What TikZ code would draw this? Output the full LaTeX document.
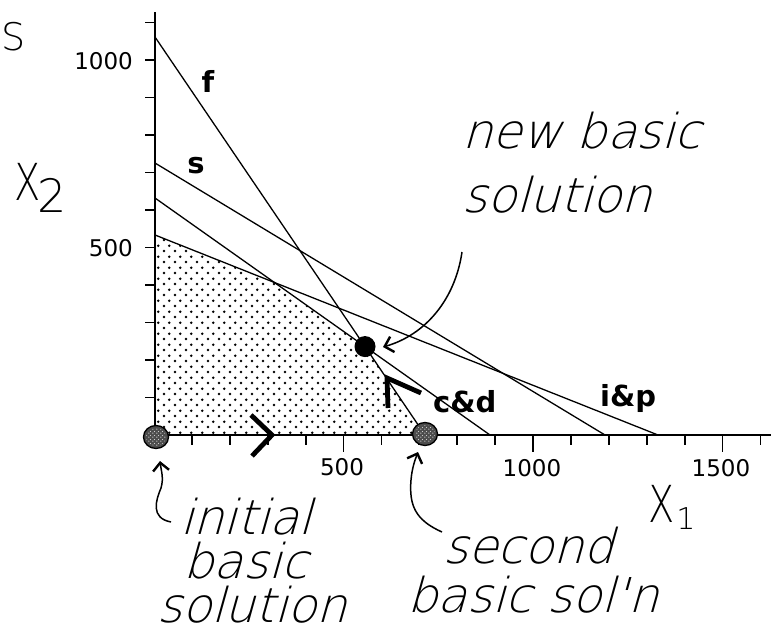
\documentclass[tikz,border=0pt]{standalone}
\usepackage{fontspec}
\setmainfont{DejaVu Sans}
\newfontfamily\lightfont{DejaVuSans-ExtraLight.ttf}
\newfontfamily\handfont{DejaVuSans-ExtraLight.ttf}[FakeSlant=0.28]
\usetikzlibrary{patterns,arrows.meta,shapes.geometric}
\pgfdeclarepatternformonly{macdots}{\pgfpointorigin}{\pgfpoint{10.8pt}{10.8pt}}{\pgfpoint{10.8pt}{10.8pt}}{%
  \pgfpathcircle{\pgfpoint{2pt}{2pt}}{1.45pt}%
  \pgfpathcircle{\pgfpoint{7.4pt}{7.4pt}}{1.45pt}%
  \pgfusepath{fill}}
\pgfdeclarepatternformonly{finedots}{\pgfpointorigin}{\pgfpoint{4pt}{4pt}}{\pgfpoint{4pt}{4pt}}{%
  \pgfpathcircle{\pgfpoint{1pt}{1pt}}{0.8pt}%
  \pgfpathcircle{\pgfpoint{3pt}{3pt}}{0.8pt}%
  \pgfusepath{fill}}
\begin{document}
\begin{tikzpicture}[x=1pt,y=-1pt,
  thinline/.style={line width=1.3pt},
  axisline/.style={line width=2.4pt},
  tickline/.style={line width=1.8pt},
  ticklab/.style={font=\fontsize{23}{23}\selectfont, inner sep=0pt},
  boldlab/.style={font=\bfseries\fontsize{29}{29}\selectfont, inner sep=0pt, anchor=base west},
  handlab/.style={font=\handfont\fontsize{48}{48}\selectfont, inner sep=0pt, anchor=base west},
  axlab/.style={font=\lightfont\fontsize{51}{51}\selectfont, inner sep=0pt},
  solpt/.style={ellipse, draw=black, line width=1.3pt, fill=black!70, minimum width=25pt, minimum height=23pt, inner sep=0pt},
  newpt/.style={circle, fill=black, minimum size=21pt, inner sep=0pt},
  chevron/.style={line width=4.8pt, miter limit=10},
  curvearrow/.style={line width=1.5pt, -{Straight Barb[length=8pt,width=16pt,line width=2.4pt]}}
]
\useasboundingbox (0,0) rectangle (771,634);
% constraint line end points
\coordinate (O) at (155,435);
\coordinate (f1) at (155,37);  \coordinate (f2) at (425,435);
\coordinate (s1) at (155,163); \coordinate (s2) at (605,435);
\coordinate (c1) at (155,198); \coordinate (c2) at (490,435);
\coordinate (i1) at (155,235); \coordinate (i2) at (658,435);
\coordinate (ipcd) at (intersection of i1--i2 and c1--c2);
\coordinate (D) at (intersection of f1--f2 and c1--c2);
% feasible region
\fill[pattern=macdots, pattern color=black] (O) -- (i1) -- (ipcd) -- (D) -- (f2) -- cycle;
% constraint lines
\draw[thinline] (f1) -- (f2);
\draw[thinline] (s1) -- (s2);
\draw[thinline] (c1) -- (c2);
\draw[thinline] (i1) -- (i2);
% axes
\coordinate (ytop) at (155,12);
\coordinate (xleft) at (145,435);
\coordinate (xright) at (771,435);
\draw[axisline] (155,437) -- (ytop);
\draw[axisline] (xleft) -- (xright);
\foreach \k in {1,...,11} \draw[tickline] (145,435-37.5*\k) -- (155,435-37.5*\k);
\foreach \k in {1,...,16} \draw[tickline] (154+37.9*\k,435) -- (154+37.9*\k,445);
\foreach \k in {5,10,15} \draw[tickline] (154+37.9*\k,435) -- (154+37.9*\k,452);
% tick labels
\node[ticklab, anchor=east] (y1000) at (133,61) {1000};
\node[ticklab, anchor=east] (y500) at (133,248) {500};
\node[ticklab] (x500) at (342,467) {500};
\node[ticklab] (x1000) at (532,468) {1000};
\node[ticklab] (x1500) at (721,468) {1500};
% axis labels
\node[font=\lightfont\fontsize{38}{38}\selectfont, inner sep=0pt] (S) at (14,37) {S};
\node[axlab] (X2) at (28,182) {\scalebox{0.75}[1]{X}};
\node[font=\lightfont\fontsize{46}{46}\selectfont, inner sep=0pt] (X2sub) at (52,195) {2};
\node[axlab] (X1) at (662,504) {\scalebox{0.75}[1]{X}};
\node[font=\lightfont\fontsize{30}{30}\selectfont, inner sep=0pt] (X1sub) at (686,519) {1};
% constraint labels
\node[boldlab, anchor=center] (fl) at (208,81) {f};
\node[boldlab, anchor=center] (sl) at (196,166) {s};
\node[boldlab] (cdl) at (433,412) {c\&d};
\node[boldlab] (ipl) at (600,406) {i\&p};
% solution points
\node[solpt] (sol1) at (156,437) {};
\node[solpt] (sol2) at (425,434) {};
\fill[pattern=finedots, pattern color=white!80!black] (sol1.center) ellipse (10pt and 9pt);
\fill[pattern=finedots, pattern color=white!80!black] (sol2.center) ellipse (10pt and 9pt);
\node[newpt] (newsol) at (D) {};
% direction chevrons
\draw[chevron] (251,415) -- (272,435) -- (252,456);
\draw[chevron] (388,408) -- (387,378) -- (421,393);
% annotations
\node[handlab] (t1) at (462,148) {new basic};
\node[handlab] (t2) at (462,212) {solution};
\node[handlab] (itxt) at (157,622) {\vbox{\baselineskip=44pt\lineskiplimit=-100pt
  \hbox{\hspace*{23pt}initial}\hbox{\hspace*{26pt}basic}\hbox{solution}}};
\node[handlab] (s1t) at (443,563) {second};
\node[handlab] (s2t) at (407,612) {basic sol'n};
% curved arrows
\coordinate (a1s) at (462,252);
\coordinate (a1e) at (383,347);
\draw[curvearrow] (a1s) .. controls (455,300) and (425,335) .. (a1e);
\coordinate (a2s) at (171,522);
\coordinate (a2e) at (160,461);
\draw[curvearrow] (a2s) .. controls (150,518) and (156,500) .. (161,488) .. controls (164,478) and (161,470) .. (a2e);
\coordinate (a3s) at (442,532);
\coordinate (a3e) at (418,452);
\draw[curvearrow] (a3s) .. controls (415,520) and (409,505) .. (411,480) .. controls (412,468) and (415,460) .. (a3e);
\end{tikzpicture}
\end{document}
